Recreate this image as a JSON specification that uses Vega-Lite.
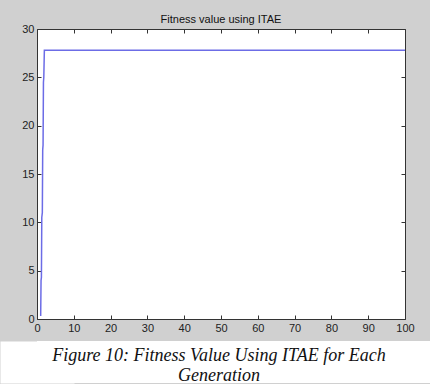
{
  "$schema": "https://vega.github.io/schema/vega-lite/v6.json",
  "background": "#d0d0d0",
  "padding": {"top": 14, "left": 0, "right": 0, "bottom": 0},
  "config": {
    "view": {"stroke": null},
    "axis": {
      "domainColor": "#333",
      "tickColor": "#333",
      "tickSize": -4,
      "grid": false,
      "labelFont": "Liberation Sans",
      "labelFontSize": 11,
      "labelColor": "#222",
      "title": null
    }
  },
  "spacing": 0,
  "vconcat": [
    {
      "width": 368,
      "height": 290,
      "view": {"fill": "white", "stroke": null},
      "title": {
        "text": "Fitness value using ITAE",
        "font": "Liberation Sans",
        "fontSize": 11,
        "fontWeight": "normal",
        "color": "#111",
        "offset": -2
      },
      "data": {
        "values": [
          {"gen": 1.0, "fit": 0.3},
          {"gen": 1.1, "fit": 4.0},
          {"gen": 1.2, "fit": 4.3},
          {"gen": 1.3, "fit": 10.5},
          {"gen": 1.45, "fit": 11.0},
          {"gen": 1.55, "fit": 17.5},
          {"gen": 1.65, "fit": 18.0},
          {"gen": 1.75, "fit": 24.5},
          {"gen": 1.85, "fit": 25.0},
          {"gen": 2.0, "fit": 27.8},
          {"gen": 100, "fit": 27.8}
        ]
      },
      "layer": [
        {
          "mark": {"type": "line", "color": "#6c6ce6", "strokeWidth": 1.5},
          "encoding": {
            "x": {
              "field": "gen", "type": "quantitative",
              "scale": {"domain": [0, 100], "nice": false, "zero": false},
              "axis": {"orient": "bottom", "values": [0,10,20,30,40,50,60,70,80,90,100], "labelPadding": 7, "minExtent": 22, "labelFlush": false}
            },
            "y": {
              "field": "fit", "type": "quantitative",
              "scale": {"domain": [0, 30], "nice": false},
              "axis": {"orient": "left", "values": [0,5,10,15,20,25,30], "labelPadding": 7, "minExtent": 37, "labelFlush": false}
            }
          }
        },
        {
          "mark": {"type": "line", "strokeOpacity": 0},
          "encoding": {
            "x": {
              "field": "gen", "type": "quantitative",
              "scale": {"domain": [0, 100], "nice": false, "zero": false},
              "axis": {"orient": "top", "values": [0,10,20,30,40,50,60,70,80,90,100], "labels": false}
            },
            "y": {
              "field": "fit", "type": "quantitative",
              "scale": {"domain": [0, 30], "nice": false},
              "axis": {"orient": "right", "values": [0,5,10,15,20,25,30], "labels": false}
            }
          }
        }
      ],
      "resolve": {"axis": {"x": "independent", "y": "independent"}}
    },
    {
      "width": 393,
      "height": 42,
      "view": {"fill": "white", "stroke": null},
      "data": {
        "values": [
          {"n": 1, "line": "Figure 10: Fitness Value Using ITAE for Each"},
          {"n": 2, "line": "Generation"}
        ]
      },
      "mark": {
        "type": "text",
        "font": "Liberation Serif",
        "fontStyle": "italic",
        "fontSize": 18,
        "color": "#111",
        "baseline": "middle",
        "align": "center",
        "dx": -14.5,
        "dy": 4
      },
      "encoding": {
        "y": {
          "field": "n", "type": "ordinal",
          "scale": {"padding": 0.55},
          "axis": {"orient": "left", "labels": false, "ticks": false, "domain": true, "domainColor": "white", "domainWidth": 74, "minExtent": 0}
        },
        "text": {"field": "line"}
      }
    }
  ]
}
